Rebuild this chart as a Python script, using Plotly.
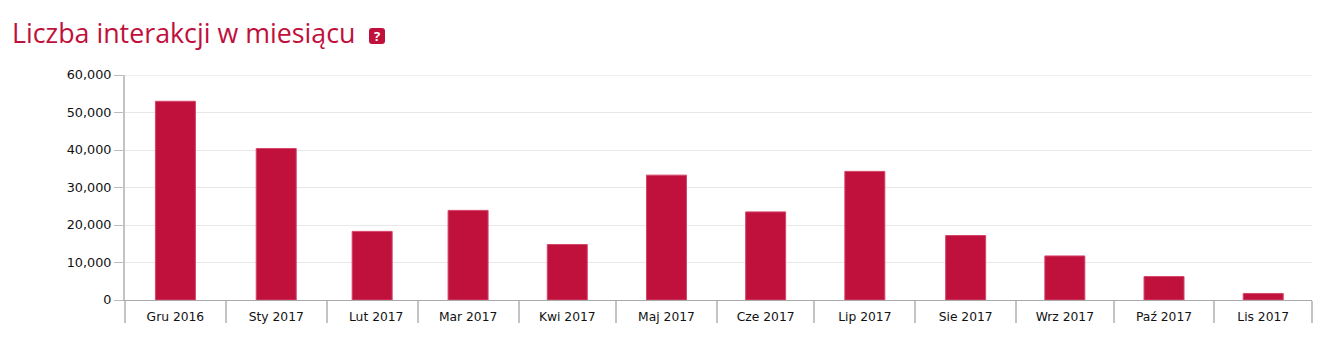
import plotly.graph_objects as go

months = ["2016-12-16 12:00", "2017-01-16 12:00", "2017-02-15", "2017-03-16 12:00", "2017-04-16", "2017-05-16 12:00",
          "2017-06-16", "2017-07-16 12:00", "2017-08-16 12:00", "2017-09-16", "2017-10-16 12:00", "2017-11-16"]
label_dates = ["2016-12-16 12:00", "2017-01-16 12:00", "2017-02-16 06:00", "2017-03-16 12:00", "2017-04-16", "2017-05-16 12:00",
               "2017-06-16", "2017-07-16 12:00", "2017-08-16 12:00", "2017-09-16", "2017-10-16 12:00", "2017-11-16"]
labels = ["Gru 2016", "Sty 2017", "Lut 2017", "Mar 2017", "Kwi 2017", "Maj 2017",
          "Cze 2017", "Lip 2017", "Sie 2017", "Wrz 2017", "Paź 2017", "Lis 2017"]
values = [53000, 40400, 18300, 23900, 14800, 33300, 23500, 34300, 17200, 11750, 6250, 1750]
y_ticks = [0, 10000, 20000, 30000, 40000, 50000, 60000]

W, H = 1343, 355
L, R, T, B = 125, 31, 75, 55
CRIMSON = "#c0103c"
GRID = "#e8e8e8"
BAR_MS = 12.3 * 86400000


def px(x):
    return (x - L) / (W - L - R)


def py(y):
    return (H - B - y) / (H - T - B)


fig = go.Figure(go.Bar(
    x=months, y=values, width=BAR_MS,
    marker=dict(color=CRIMSON, line=dict(color="#d4476a", width=1)),
    hovertemplate="%{y:,}<extra></extra>",
))

# rounded help badge
x0, x1, y0, y1 = px(369), px(385), py(44), py(28)
rx, ry = 3 / (W - L - R), 3 / (H - T - B)
badge = (f"M {x0 + rx} {y0} L {x1 - rx} {y0} Q {x1} {y0} {x1} {y0 + ry} L {x1} {y1 - ry} "
         f"Q {x1} {y1} {x1 - rx} {y1} L {x0 + rx} {y1} Q {x0} {y1} {x0} {y1 - ry} "
         f"L {x0} {y0 + ry} Q {x0} {y0} {x0 + rx} {y0} Z")

fig.update_layout(
    width=W, height=H,
    margin=dict(l=L, r=R, t=T, b=B, pad=0),
    paper_bgcolor="white", plot_bgcolor="white",
    showlegend=False,
    font=dict(family="DejaVu Sans", size=12, color="#111111"),
    xaxis=dict(
        type="date",
        range=["2016-12-01", "2017-12-01"],
        tickmode="array", tickvals=label_dates, ticktext=labels,
        ticks="outside", ticklen=5, tickcolor="rgba(0,0,0,0)", tickwidth=0,
        showgrid=False, showline=True, linecolor="#aaaaaa", linewidth=1,
        minor=dict(ticks="outside", dtick="M1", tick0="2016-12-01", ticklen=22, tickwidth=2,
                   tickcolor="#c4c4c4", showgrid=False),
        tickfont=dict(family="DejaVu Sans", size=12.3, color="#111111"),
        fixedrange=True,
    ),
    yaxis=dict(
        range=[0, 60000],
        tickmode="array", tickvals=y_ticks, tickformat=",d",
        ticks="outside", ticklen=9, tickwidth=1, tickcolor="#bbbbbb",
        showgrid=True, gridcolor=GRID, gridwidth=1, zeroline=False,
        showline=True, linecolor="#c4c4c4", linewidth=2,
        tickfont=dict(family="DejaVu Sans", size=12.8, color="#111111"),
        fixedrange=True,
    ),
    shapes=[
        dict(type="path", xref="paper", yref="paper", path=badge,
             fillcolor=CRIMSON, line=dict(width=0)),
        dict(type="line", xref="paper", yref="y", x0=0, x1=1, y0=y_ticks[-1], y1=y_ticks[-1],
             line=dict(color=GRID, width=1.5)),
    ],
    annotations=[
        dict(text="Liczba interakcji w miesiącu", xref="paper", yref="paper",
             x=px(10), y=py(33), xanchor="left", yanchor="middle", showarrow=False,
             font=dict(family="Open Sans", size=26.8, color=CRIMSON)),
        dict(text="<b>?</b>", xref="paper", yref="paper",
             x=px(377), y=py(36), xanchor="center", yanchor="middle", showarrow=False,
             font=dict(family="Open Sans", size=13, color="white")),
    ],
)

fig.write_html("out.html", config={"displayModeBar": False},
               post_script="document.body.style.margin='0';document.body.style.overflow='hidden';")
